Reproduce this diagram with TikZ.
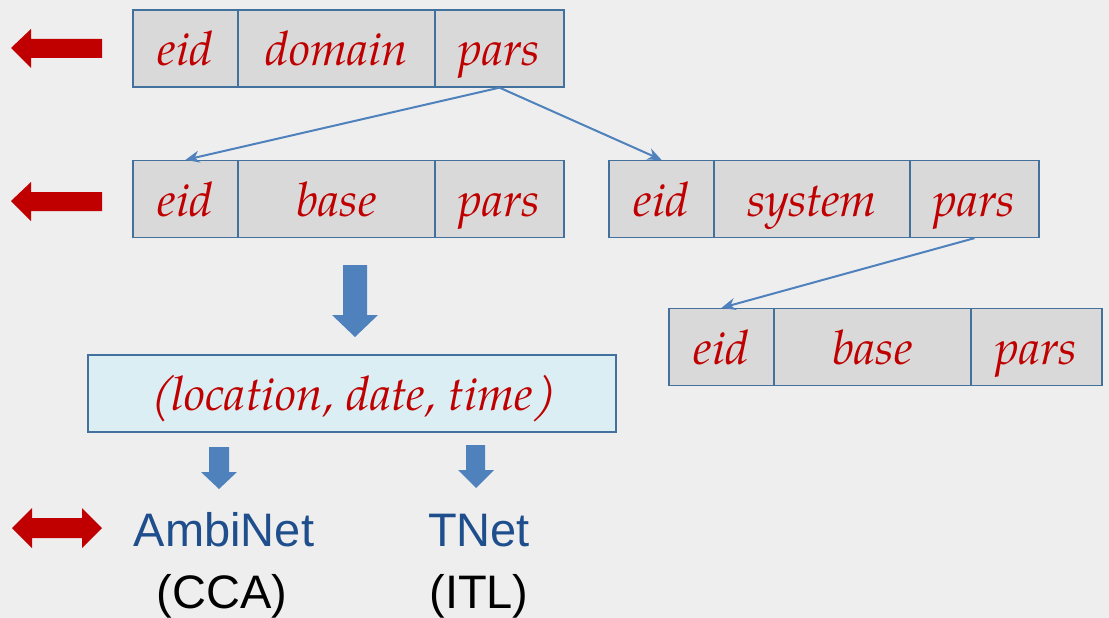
\documentclass[tikz,border=0pt]{standalone}
\usepackage{fontspec}
\newfontfamily\arial{Liberation Sans}
\newfontfamily\pala{texgyrepagella-italic.otf}
\newfontfamily\palaslant{texgyrepagella-regular.otf}[FakeSlant=0.22]
\newcommand{\slparen}[1]{{\palaslant #1}}
\usetikzlibrary{arrows.meta}
\definecolor{bg}{HTML}{EEEEEE}
\definecolor{cellgray}{HTML}{D9D9D9}
\definecolor{boxborder}{HTML}{41719C}
\definecolor{labred}{HTML}{C00000}
\definecolor{lightblue}{HTML}{DAEEF3}
\definecolor{arrblue}{HTML}{4F81BD}
\definecolor{netblue}{HTML}{1F4E8C}
\begin{document}
\begin{tikzpicture}[x=1pt,y=-1pt,
  cell/.style={draw=boxborder, line width=1.3pt, fill=cellgray, minimum height=77pt,
    inner sep=0pt, text=labred, text height=40pt, text depth=6pt,
    font=\fontsize{47.5}{52}\selectfont\pala},
  conn/.style={draw=arrblue, line width=2pt, -{Stealth[length=14pt,width=12pt]}},
  redarrow/.style={fill=labred, draw=none},
  bluearrow/.style={fill=arrblue, draw=none},
  nettext/.style={anchor=base, inner sep=0pt, text=netblue, font=\fontsize{47}{50}\selectfont\arial},
  subtext/.style={anchor=base, inner sep=0pt, text=black, font=\fontsize{47}{50}\selectfont\arial}]
\useasboundingbox (0,0) rectangle (1109,618);
\fill[bg] (0,0) rectangle (1109,618);

% row 1
\node[cell, minimum width=105pt] (eid1) at (185.5,48.5) {eid};
\node[cell, minimum width=197pt] (dom1) at (336.5,48.5) {domain};
\node[cell, minimum width=129pt] (pars1) at (499.5,48.5) {pars};
% row 2 left
\node[cell, minimum width=105pt] (eid2) at (185.5,199) {eid};
\node[cell, minimum width=197pt] (base2) at (336.5,199) {base};
\node[cell, minimum width=129pt] (pars2) at (499.5,199) {pars};
% row 2 right
\node[cell, minimum width=105pt] (eid3) at (661.5,199) {eid};
\node[cell, minimum width=196pt] (sys3) at (812,199) {system};
\node[cell, minimum width=129pt] (pars3) at (974.5,199) {pars};
% row 3
\node[cell, minimum width=105pt] (eid4) at (721.5,347) {eid};
\node[cell, minimum width=197pt] (base4) at (872.5,347) {base};
\node[cell, minimum width=131pt] (pars4) at (1036.5,347) {pars};

% location box
\node[cell, fill=lightblue, minimum width=528pt] (loc) at (352,393.5) {\slparen{(}location, date, time\slparen{)}};

% connectors
\draw[conn] (pars1.south) -- (eid2.north);
\draw[conn] (pars1.south) -- (eid3.north);
\draw[conn] (pars3.south) -- (eid4.north);

% red arrows
\fill[redarrow] (11,48) -- (31,29) -- (31,39) -- (102,39) -- (102,58) -- (31,58) -- (31,68) -- cycle;
\fill[redarrow] (11,201) -- (31,182) -- (31,192) -- (102,192) -- (102,211) -- (31,211) -- (31,221) -- cycle;
\fill[redarrow] (12,528) -- (32,508) -- (32,518) -- (82,518) -- (82,508) -- (102,528) -- (82,548) -- (82,538) -- (32,538) -- (32,548) -- cycle;

% blue block arrows
\fill[bluearrow] (343,265) -- (367,265) -- (367,315) -- (378,315) -- (355,337) -- (332,315) -- (343,315) -- cycle;
\fill[bluearrow] (209,447) -- (229,447) -- (229,472) -- (237,472) -- (219,489) -- (201,472) -- (209,472) -- cycle;
\fill[bluearrow] (466,445) -- (485,445) -- (485,470) -- (494,470) -- (476,488) -- (458,470) -- (466,470) -- cycle;

% bottom labels
\node[nettext] (ambi) at (224,546) {AmbiNet};
\node[nettext] (tnet) at (479,546) {TNet};
\node[subtext] (cca) at (222,608) {(CCA)};
\node[subtext] (itl) at (479,608) {(ITL)};
\end{tikzpicture}
\end{document}
